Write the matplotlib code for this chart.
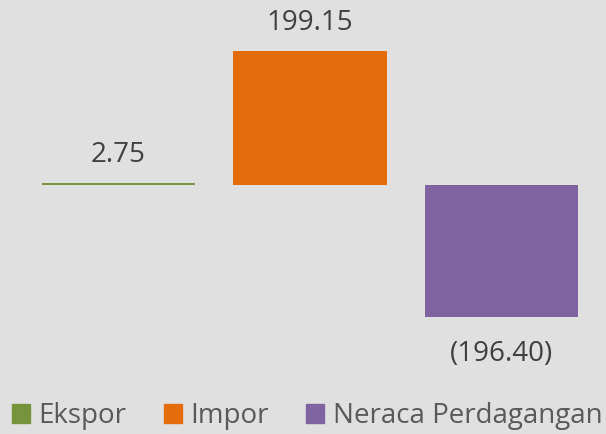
import matplotlib.pyplot as plt
from matplotlib.patches import Patch

categories = ["Ekspor", "Impor", "Neraca Perdagangan"]
values = [2.75, 199.15, -196.40]
labels = ["2.75", "199.15", "(196.40)"]
colors = ["#77933C", "#E46C0A", "#8064A2"]
bg = "#E0E0E0"

plt.rcParams['font.family'] = ['Open Sans', 'DejaVu Sans']

fig = plt.figure(figsize=(6.06, 4.34), dpi=100, facecolor=bg)
ax = fig.add_axes([22.75 / 606, 1 - 353.25 / 434, 574.5 / 606, 336.5 / 434])
ax.set_facecolor(bg)

x = range(len(categories))
bars = ax.bar(x, values, width=0.8, color=colors)

# value labels above positive bars, below negative ones
for b, v, lab in zip(bars, values, labels):
    off = 28 if v >= 0 else -37
    ax.annotate(lab, (b.get_x() + b.get_width() / 2, v), xytext=(0, off),
                textcoords="offset pixels", ha="center", va="center",
                fontsize=20, color="#404040", annotation_clip=False)

ax.set_xlim(-0.5, 2.5)
ax.set_ylim(-250, 250)
ax.axis("off")

handles = [Patch(color=c, label=n) for c, n in zip(colors, categories)]
fig.legend(handles=handles, loc="center", bbox_to_anchor=(307 / 606, 1 - 416 / 434),
           ncol=3, frameon=False, fontsize=20, labelcolor="#595959",
           handlelength=0.65, handleheight=0.65, handletextpad=0.3,
           columnspacing=1.35, borderaxespad=0)

fig.savefig("out.png", dpi=100, facecolor=bg)
